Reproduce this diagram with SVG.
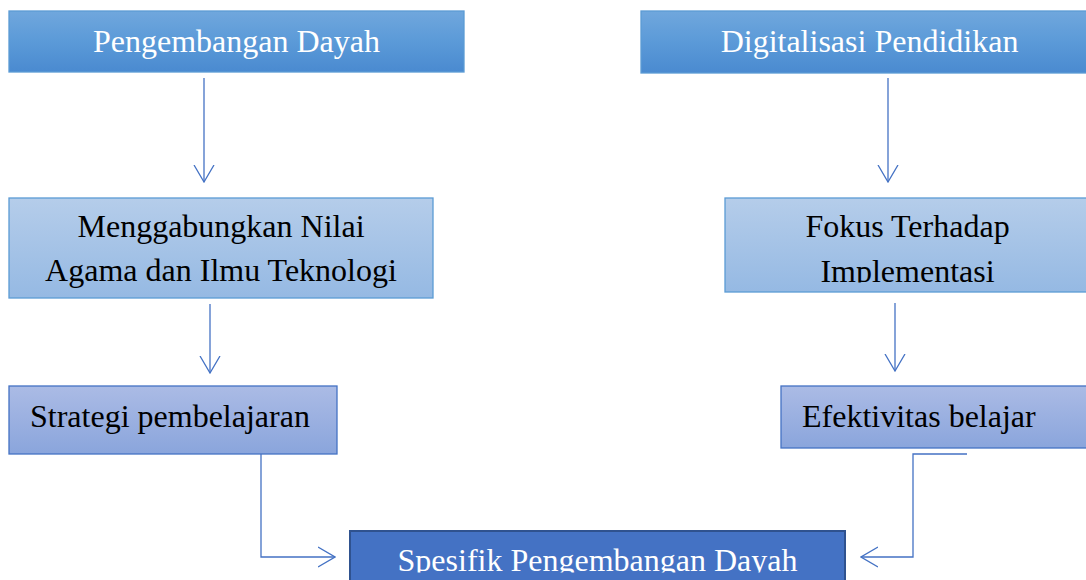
<svg xmlns="http://www.w3.org/2000/svg" width="1086" height="580" viewBox="0 0 1086 580">
  <style>
    .t { font-family: "Liberation Serif", "Times New Roman", serif; font-size: 32px; }
    .w { fill: #ffffff; }
    .k { fill: #000000; }
    .head { fill: url(#gHead); stroke: #5b9bd5; stroke-width: 1.3; }
    .mid { fill: url(#gMid); stroke: #5b9bd5; stroke-width: 1.3; }
    .low { fill: url(#gLow); stroke: #4472c4; stroke-width: 1.3; }
    .fin { fill: #4472c4; stroke: #2f528f; stroke-width: 2; }
    .c { fill: none; stroke: #4472c4; stroke-width: 1.3; marker-end: url(#arr); }
  </style>
  <defs>
    <linearGradient id="gHead" x1="0" y1="0" x2="0" y2="1">
      <stop offset="0" stop-color="#70a7dd"/>
      <stop offset="0.5" stop-color="#5b9ad8"/>
      <stop offset="1" stop-color="#4a8ad0"/>
    </linearGradient>
    <linearGradient id="gMid" x1="0" y1="0" x2="0" y2="1">
      <stop offset="0" stop-color="#b5cdea"/>
      <stop offset="1" stop-color="#95b9e3"/>
    </linearGradient>
    <linearGradient id="gLow" x1="0" y1="0" x2="0" y2="1">
      <stop offset="0" stop-color="#abbbe5"/>
      <stop offset="1" stop-color="#8aa5dc"/>
    </linearGradient>
    <marker id="arr" viewBox="0 0 18 22" refX="17" refY="11" markerWidth="18" markerHeight="22" markerUnits="userSpaceOnUse" orient="auto">
      <path d="M0,1 L17,11 L0,21" fill="none" stroke="#4472c4" stroke-width="1.3"/>
    </marker>
    <clipPath id="clipFokus"><rect x="725" y="198" width="380" height="84.5"/></clipPath>
    <clipPath id="clipFin"><rect x="350" y="531" width="495" height="41.5"/></clipPath>
  </defs>

  <g id="connectors">
    <path class="c" d="M204,78 V182"/>
    <path class="c" d="M888,78 V182"/>
    <path class="c" d="M210,304 V373"/>
    <path class="c" d="M895,303 V371"/>
    <path class="c" d="M261,454 V557 H335"/>
    <path class="c" d="M967,454 H913 V557 H861"/>
  </g>

  <g id="n-pengembangan-dayah">
    <rect class="head" x="9" y="11" width="455" height="61"/>
    <text class="t w" x="236.5" y="52" text-anchor="middle">Pengembangan Dayah</text>
  </g>

  <g id="n-digitalisasi-pendidikan">
    <rect class="head" x="641" y="11" width="460" height="62"/>
    <text class="t w" x="869.5" y="52" text-anchor="middle">Digitalisasi Pendidikan</text>
  </g>

  <g id="n-menggabungkan">
    <rect class="mid" x="9" y="198" width="424" height="100"/>
    <text class="t k" x="221" y="237" text-anchor="middle">Menggabungkan Nilai</text>
    <text class="t k" x="221" y="281" text-anchor="middle">Agama dan Ilmu Teknologi</text>
  </g>

  <g id="n-fokus">
    <rect class="mid" x="725" y="198" width="380" height="94"/>
    <g clip-path="url(#clipFokus)">
      <text class="t k" x="907.5" y="237" text-anchor="middle">Fokus Terhadap</text>
      <text class="t k" x="907.5" y="282" text-anchor="middle">Implementasi</text>
    </g>
  </g>

  <g id="n-strategi">
    <rect class="low" x="9" y="386" width="328" height="68"/>
    <text class="t k" x="30" y="427">Strategi pembelajaran</text>
  </g>

  <g id="n-efektivitas">
    <rect class="low" x="781" y="386" width="320" height="62"/>
    <text class="t k" x="802" y="427">Efektivitas belajar</text>
  </g>

  <g id="n-spesifik">
    <rect class="fin" x="350" y="531" width="495" height="70"/>
    <g clip-path="url(#clipFin)">
      <text class="t w" x="597.5" y="571" text-anchor="middle">Spesifik Pengembangan Dayah</text>
    </g>
  </g>
</svg>
